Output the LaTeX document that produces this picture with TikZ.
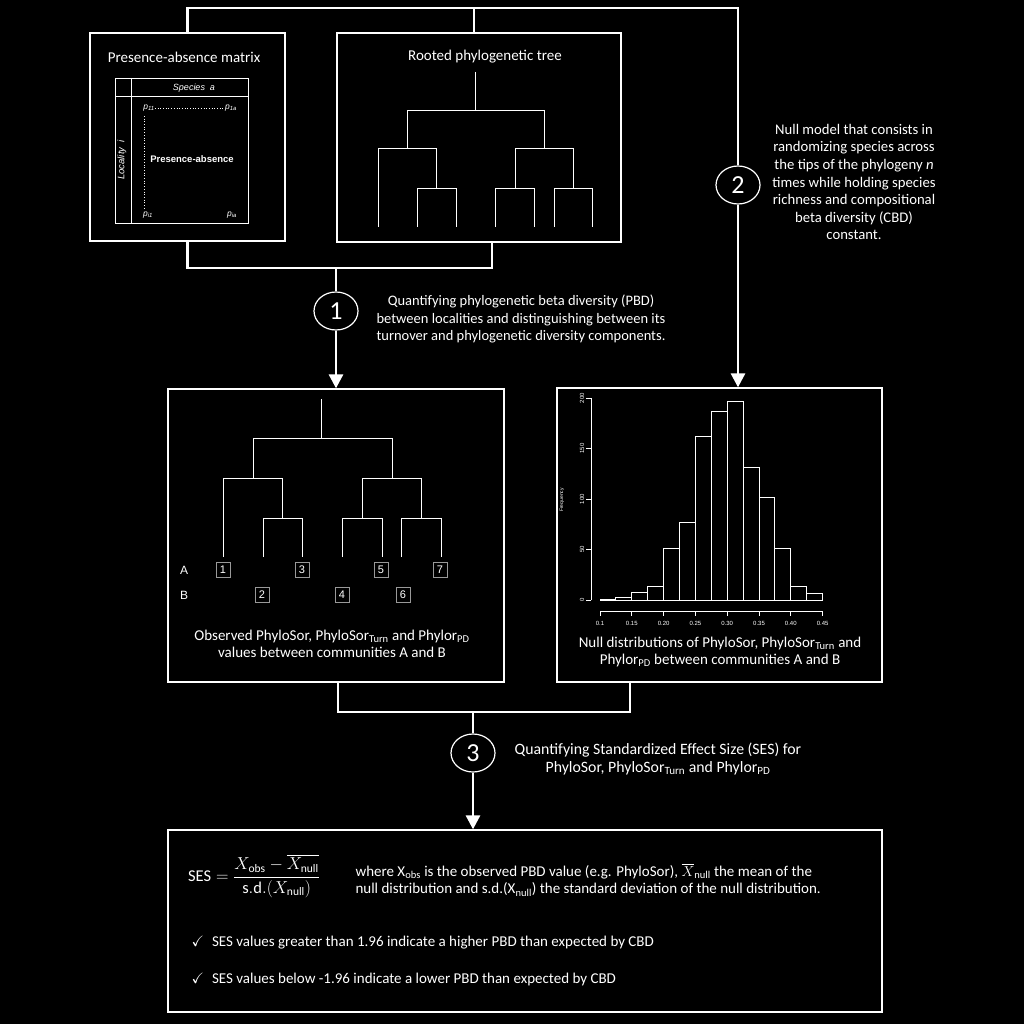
\documentclass[tikz,border=0pt]{standalone}
\usepackage{amssymb}
\usepackage{fontspec}
\setmainfont{Carlito}
\newfontfamily\arialfont{Liberation Sans}
\usetikzlibrary{positioning}
\usetikzlibrary{arrows.meta}
\usetikzlibrary{shapes.geometric}
\newcommand{\notesize}{\fontsize{15}{17.5}\selectfont}
\newcommand{\binw}{15.9}
\tikzset{
    panel/.style={draw=white, line width=1.3pt, fill=black, inner sep=0pt},
    link/.style={draw=white, line width=2.8pt},
    arrowlink/.style={link, -{Triangle[width=14pt,length=14pt]}},
    stepmark/.style={draw=white, fill=black, ellipse, line width=1.2pt, minimum width=44pt, minimum height=38pt, inner sep=0pt, font=\fontsize{26}{26}\selectfont},
    note/.style={align=center, font=\notesize, text=white},
    branch/.style={draw=white, line width=0.9pt},
    tipbox/.style={draw=gray!80, line width=0.5pt, minimum width=14pt, minimum height=15pt, inner sep=0pt, font=\arialfont\fontsize{11}{11}\selectfont},
    rowlabel/.style={font=\arialfont\fontsize{12}{12}\selectfont},
    bar/.style={draw=white, line width=0.9pt},
    ticklabel/.style={font=\arialfont\fontsize{6}{6}\selectfont, inner sep=0pt},
    cell/.style={font=\arialfont\itshape\fontsize{8.5}{8.5}\selectfont, inner sep=0pt},
}

\begin{document}
\begin{tikzpicture}[x=1pt, y=-1pt, text=white]
\fill[black] (0,0) rectangle (1024,1024);
\useasboundingbox (0,0) rectangle (1024,1024);

% panels
\node[panel, minimum width=195pt, minimum height=208pt] (mat) at (187.5,137) {};
\node[panel, minimum width=284pt, minimum height=209pt] (tree) at (479,137.5) {};
\node[panel, minimum width=336pt, minimum height=293pt] (obs) at (336,535.5) {};
\node[panel, minimum width=325pt, minimum height=294pt] (null) at (719.5,535) {};
\node[panel, minimum width=714pt, minimum height=182pt] (ses) at (525,921) {};

% steps
\node[stepmark] (c1) at (336,311) {1};
\node[stepmark] (c2) at (738,185) {2};
\node[stepmark] (c3) at (473,753) {3};

\coordinate (topr) at (738,8);
\coordinate (topm) at (474,8);
\coordinate (b1l) at (187,268);
\coordinate (b1r) at (492,268);
\coordinate (b1m) at (336,268);
\coordinate (b2l) at (338,712);
\coordinate (b2r) at (630,712);
\coordinate (b2m) at (473,712);

\draw[link] (mat.north) |- (topr) -- (c2);
\draw[link] (topm) -- (topm |- tree.north);
\draw[arrowlink] (c2) -- (c2 |- null.north);
\draw[link] (mat.south) |- (b1r) -- (b1r |- tree.south);
\draw[link] (b1m) -- (c1);
\draw[arrowlink] (c1) -- (c1 |- obs.north);
\draw[link] (b2l |- obs.south) |- (b2r) -- (b2r |- null.south);
\draw[link] (b2m) -- (c3);
\draw[arrowlink] (c3) -- (c3 |- ses.north);

\node[note, font=\fontsize{14.5}{17.5}\selectfont] (n1) at (521,319) {Quantifying phylogenetic beta diversity (PBD)\\between localities and distinguishing between its\\turnover and phylogenetic diversity components.};
\node[note, font=\fontsize{14.7}{17.6}\selectfont] (n2) at (854,182) {Null model that consists in\\randomizing species across\\the tips of the phylogeny \textit{n}\\times while holding species\\richness and compositional\\beta diversity (CBD)\\constant.};
\node[note, font=\fontsize{15.8}{18}\selectfont] (n3) at (658,759) {Quantifying Standardized Effect Size (SES) for\\PhyloSor, PhyloSor\textsubscript{Turn} and Phylor\textsubscript{PD}};

% presence-absence matrix
\node[note] (mattitle) at (184,57) {Presence-absence matrix};
\draw[white, line width=0.8pt] (115,78) rectangle (248,223) (115,96) -- (248,96) (131,78) -- (131,223);
\node[cell, font=\arialfont\itshape\fontsize{9}{9}\selectfont] (species) at (194,88) {Species\ \ a};
\node[cell, rotate=90, font=\arialfont\itshape\fontsize{9.5}{9.5}\selectfont] (locality) at (122,160) {Locality\ \ i};
\node[cell] (p11) at (149,108) {p\textsubscript{11}};
\node[cell] (p1a) at (231,108) {p\textsubscript{1a}};
\node[cell] (pi1) at (148,215) {p\textsubscript{i1}};
\node[cell] (pia) at (232,215) {p\textsubscript{ia}};
\draw[white, dotted, line width=0.7pt] (p11.east) -- (p1a.west);
\draw[white, dotted, line width=0.7pt] (144,116) -- (144,208);
\node[font=\arialfont\bfseries\fontsize{9.5}{9.5}\selectfont] (pa) at (192,159) {Presence-absence};

% rooted tree
\node[note] (treetitle) at (485,57) {Rooted phylogenetic tree};
\draw[branch] (475,72) -- (475,110) (407,148) |- (544,110) -- (544,148)
  (378,227) |- (436,148) -- (436,188)
  (417,227) |- (456,188) -- (456,227)
  (515,188) |- (573,148) -- (573,188)
  (495,227) |- (534,188) -- (534,227)
  (554,227) |- (592,188) -- (592,227);

% observed tree
\draw[branch] (321,399) -- (321,438) (253,478) |- (392,438) -- (392,478)
  (223,557) |- (282,478) -- (282,518)
  (263,557) |- (302,518) -- (302,557)
  (362,518) |- (421,478) -- (421,518)
  (342,557) |- (382,518) -- (382,557)
  (401,557) |- (441,518) -- (441,557);
\node[rowlabel] (rowa) at (184,570) {A};
\node[rowlabel] (rowb) at (184,595) {B};
\foreach \n/\x/\y in {1/223/570, 2/262/595, 3/302/570, 4/342/595, 5/381/570, 6/403/595, 7/440/570}
  \node[tipbox] (tip\n) at (\x,\y) {\n};
\node[note] (obscap) at (332,644) {Observed PhyloSor, PhyloSor\textsubscript{Turn} and Phylor\textsubscript{PD}\\values between communities A and B};

% null histogram
\begin{scope}[shift={(600,600)}]
  \foreach \h [count=\i] in {1,3,7,13,51,77,162,187,197,131,102,51,13,6}
    \draw[bar] ({(\i-1)*\binw},0) rectangle ++(\binw,{-\h*1.01});
\end{scope}
\draw[bar] (591,398) -- (591,600);
\foreach \v in {0,50,100,150,200} {
  \draw[bar] (591,{600-\v*1.01}) -- ++(-5,0);
  \node[ticklabel, rotate=90] (ytick\v) at (582,{600-\v*1.01}) {\v};
}
\draw[bar] (600,611) -- (823,611);
\foreach \l [count=\i] in {0.1,0.15,0.20,0.25,0.30,0.35,0.40,0.45} {
  \draw[bar] ({600+(\i-1)*31.8},611) -- ++(0,5);
  \node[ticklabel] (xtick\i) at ({600+(\i-1)*31.8},623) {\l};
}
\node[ticklabel, rotate=90, font=\arialfont\fontsize{5}{5}\selectfont] (freq) at (562,500) {Frequency};
\node[note] (nullcap) at (720,652) {Null distributions of PhyloSor, PhyloSor\textsubscript{Turn} and\\Phylor\textsubscript{PD} between communities A and B};

% SES
\node (formula) at (254,876) {\fontsize{16.5}{19}\selectfont$\displaystyle \mathrm{SES}=\frac{X_{\mathrm{obs}}-\overline{X_{\mathrm{null}}}}{\mathrm{s.d.}(X_{\mathrm{null}})}$};
\node[note, align=left, anchor=west] (where) at (352,880) {where X\textsubscript{obs} is the observed PBD value (e.g. PhyloSor), $\overline{X}_{\mathrm{null}}$ the mean of the\\null distribution and s.d.(X\textsubscript{null}) the standard deviation of the null distribution.};
\node[note, anchor=west] (chk1) at (188,943) {$\checkmark$\hspace{8pt}SES values greater than 1.96 indicate a higher PBD than expected by CBD};
\node[note, anchor=west] (chk2) at (188,979) {$\checkmark$\hspace{8pt}SES values below -1.96 indicate a lower PBD than expected by CBD};
\end{tikzpicture}
\end{document}
